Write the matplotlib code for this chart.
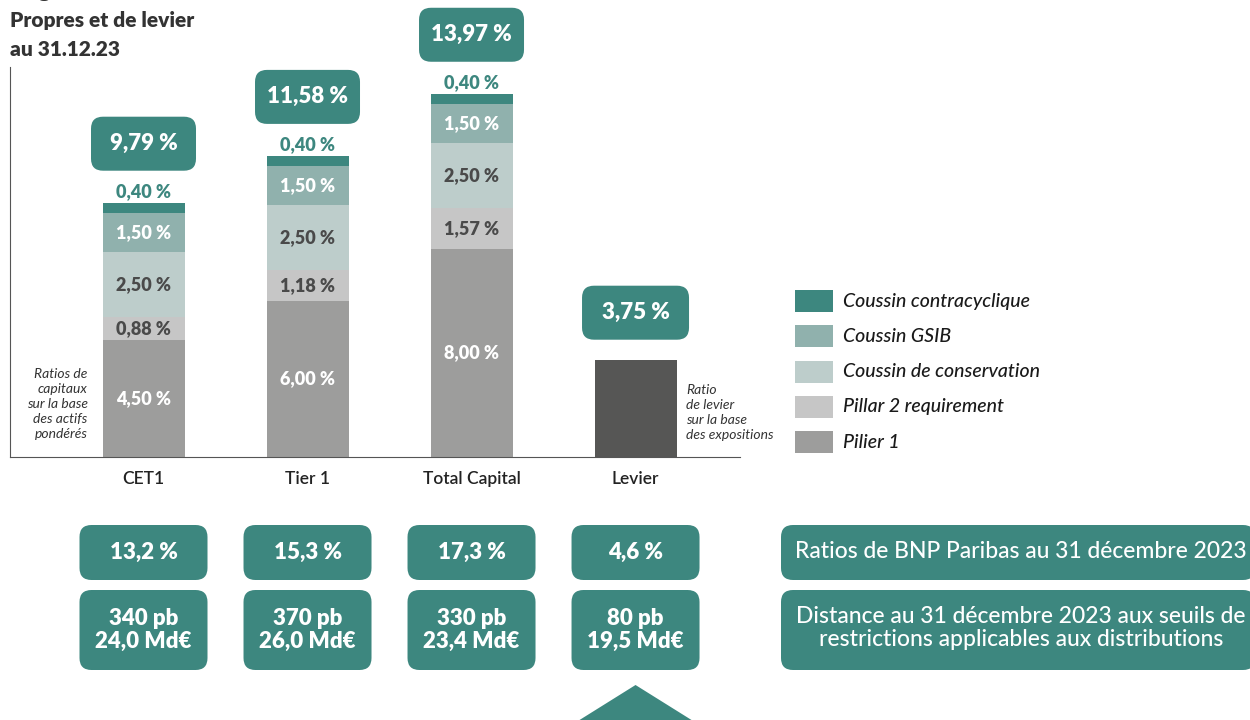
import numpy as np
import matplotlib
matplotlib.use("Agg")
import matplotlib.pyplot as plt
from matplotlib.patches import FancyBboxPatch, Rectangle, Polygon

plt.rcParams['font.family'] = ['Lato', 'DejaVu Sans']

# données
categories = ['CET1', 'Tier 1', 'Total Capital', 'Levier']
pilier1 = [4.50, 6.00, 8.00]
pillar2 = [0.88, 1.18, 1.57]
conservation = [2.50, 2.50, 2.50]
gsib = [1.50, 1.50, 1.50]
contra = [0.40, 0.40, 0.40]
totaux = ['9,79 %', '11,58 %', '13,97 %']
levier = 3.75
levier_label = '3,75 %'
ratios_bnp = ['13,2 %', '15,3 %', '17,3 %', '4,6 %']
dist_pb = ['340 pb', '370 pb', '330 pb', '80 pb']
dist_md = ['24,0 Md€', '26,0 Md€', '23,4 Md€', '19,5 Md€']

legend_labels = ['Coussin contracyclique', 'Coussin GSIB', 'Coussin de conservation',
                 'Pillar 2 requirement', 'Pilier 1']

# couleurs
TEAL = '#3d877f'
C_GSIB = '#90b1ad'
C_CONS = '#bdcdcb'
C_P2 = '#c6c6c6'
C_P1 = '#9d9d9c'
C_LEV = '#565655'
DARK = '#4a4a4a'

fig = plt.figure(figsize=(12.5, 7.2), dpi=100)
ax = fig.add_axes([10 / 1250, 263 / 720, 730 / 1250, 390 / 720])

x = np.arange(3)
w = 0.5
layers = [(pilier1, C_P1, 'white'), (pillar2, C_P2, DARK), (conservation, C_CONS, DARK),
          (gsib, C_GSIB, 'white'), (contra, TEAL, None)]
bottom = np.zeros(3)
for vals, col, tcol in layers:
    ax.bar(x, vals, w, bottom=bottom, color=col, edgecolor='none')
    for i, v in enumerate(vals):
        lab = f"{v:.2f} %".replace('.', ',')
        if tcol is None:
            ax.text(x[i], bottom[i] + v + 0.42, lab, ha='center', va='center',
                    color=TEAL, fontsize=13, fontweight='heavy')
        else:
            ax.text(x[i], bottom[i] + v / 2, lab, ha='center', va='center',
                    color=tcol, fontsize=13, fontweight='heavy')
    bottom = bottom + np.array(vals)

ax.bar([3], [levier], w, color=C_LEV, edgecolor='none')

ax.set_xlim(-0.814, 3.637)
ax.set_ylim(0, 15)
ax.set_xticks(range(4))
ax.set_xticklabels(categories, fontsize=12.5, fontweight='semibold', color='#222222')
ax.tick_params(axis='x', length=0, pad=10)
ax.set_yticks([])
for s in ['top', 'right']:
    ax.spines[s].set_visible(False)
ax.spines['left'].set_color('#555555')
ax.spines['bottom'].set_color('#555555')

ax.text(-0.34, 2.05, 'Ratios de\ncapitaux\nsur la base\ndes actifs\npondérés', ha='right',
        va='center', fontsize=10, style='italic', color='#333333', linespacing=1.3)
ax.text(3.31, 1.72, 'Ratio\nde levier\nsur la base\ndes expositions', ha='left',
        va='center', fontsize=10, style='italic', color='#333333', linespacing=1.3)

# calque en pixels
ov = fig.add_axes([0, 0, 1, 1])
ov.set_xlim(0, 1250)
ov.set_ylim(720, 0)
ov.axis('off')
ov.patch.set_alpha(0)


def to_px(xd, yd):
    dx, dy = ax.transData.transform((xd, yd))
    return dx, 720 - dy


def rbox(cx, cy, bw, bh, r=12):
    ov.add_patch(FancyBboxPatch((cx - bw / 2, cy - bh / 2), bw, bh,
                                boxstyle=f"round,pad=0,rounding_size={r}",
                                facecolor=TEAL, edgecolor='none'))


# totaux au-dessus des barres
for i in range(3):
    cx, cy = to_px(x[i], bottom[i] + 2.27)
    rbox(cx, cy, 105, 54)
    ov.text(cx, cy, totaux[i], ha='center', va='center', color='white',
            fontsize=16, fontweight='heavy')
cx, cy = to_px(3, levier + 1.8)
rbox(cx, cy, 107, 54)
ov.text(cx, cy, levier_label, ha='center', va='center', color='white',
        fontsize=16, fontweight='heavy')

# boîtes du bas
for i in range(4):
    cx, _ = to_px(i, 0)
    rbox(cx, 552.5, 128, 55)
    ov.text(cx, 552, ratios_bnp[i], ha='center', va='center', color='white',
            fontsize=16, fontweight='heavy')
    rbox(cx, 630, 128, 80)
    ov.text(cx, 630, dist_pb[i] + '\n' + dist_md[i], ha='center', va='center',
            color='white', fontsize=16, fontweight='heavy', linespacing=1.1)

rbox(1018, 552.5, 474, 55)
ov.text(1021, 551, 'Ratios de BNP Paribas au 31 décembre 2023', ha='center', va='center',
        color='white', fontsize=16.5, fontweight='medium')
rbox(1018, 630, 474, 80)
ov.text(1021, 628, 'Distance au 31 décembre 2023 aux seuils de\nrestrictions applicables aux distributions',
        ha='center', va='center', color='white', fontsize=16.5, fontweight='medium',
        linespacing=1.1)

cx, _ = to_px(3, 0)
ov.add_patch(Polygon([[cx, 685], [cx - 72, 730], [cx + 72, 730]], closed=True,
                     facecolor=TEAL, edgecolor='none'))

# légende
leg_colors = [TEAL, C_GSIB, C_CONS, C_P2, C_P1]
for k, (lab, col) in enumerate(zip(legend_labels, leg_colors)):
    yc = 301 + k * 35.3
    ov.add_patch(Rectangle((795, yc - 11), 38, 22, facecolor=col, edgecolor='none'))
    ov.text(843, yc, lab, ha='left', va='center', fontsize=14, style='italic',
            fontweight='medium', color='#1a1a1a')

# titre
for txt, yb in [('Exigences de Fonds', -2), ('Propres et de levier', 27), ('au 31.12.23', 56)]:
    ov.text(10, yb, txt, ha='left', va='baseline', fontsize=15,
            fontweight='heavy', color='#333333')

fig.savefig('out.png', dpi=100)
